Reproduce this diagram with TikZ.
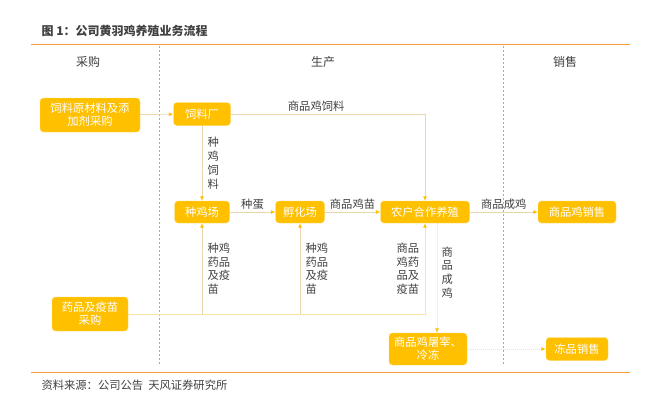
\documentclass[tikz,border=0pt]{standalone}
\usepackage{fontspec}
\setmainfont{Noto Sans CJK SC}
\usepackage{xcolor}
\usetikzlibrary{arrows.meta}

\definecolor{boxfill}{HTML}{FFC000}
\definecolor{linktan}{HTML}{E9D6AC}
\definecolor{linkpale}{HTML}{FBE3A6}
\definecolor{ruleorange}{HTML}{F79A3E}
\definecolor{textgray}{HTML}{404040}
\definecolor{divgray}{HTML}{AAAAAA}

\begin{document}
\begin{tikzpicture}[x=1pt,y=-1pt,
    box/.style={draw=boxfill!60!white, fill=boxfill, rounded corners=3.5pt,
                text=white, font=\fontsize{11.3}{13}\selectfont, align=center,
                inner sep=0pt, minimum height=23pt},
    tip/.style={-{Latex[length=4.5pt,width=4pt,color=boxfill]}},
    link/.style={draw=linktan, line width=0.7pt, tip},
    linksoft/.style={draw=linkpale, line width=0.9pt, tip},
    linkdot/.style={draw=linkpale, line width=0.8pt, dash pattern=on 1pt off 1pt, tip},
    lbl/.style={text=textgray, font=\fontsize{11.3}{13.8}\selectfont, align=left},
    head/.style={text=textgray, font=\fontsize{12}{14}\selectfont},
    divider/.style={divgray, line width=0.6pt, dash pattern=on 2pt off 2pt}]
\useasboundingbox (0,0) rectangle (646,402);

% title and rules
\node[anchor=west, text=textgray, font=\fontsize{12}{14}\selectfont\bfseries] (title) at (38,31) {图 1：公司黄羽鸡养殖业务流程};
\draw[ruleorange, line width=1pt] (31,44) -- (630,44);
\draw[ruleorange, line width=1pt] (31,372) -- (630,372);
\node[anchor=west, text=textgray, font=\fontsize{11.3}{13}\selectfont] (source) at (38,385) {资料来源：公司公告\ \ 天风证券研究所};

% columns
\draw[divider] (159,46) -- (159,365);
\draw[divider] (503,46) -- (503,365);
\node[head] (hbuy)  at (88,62)  {采购};
\node[head] (hmake) at (323,62) {生产};
\node[head] (hsell) at (565,62) {销售};

% boxes
\node[box, minimum width=100pt, minimum height=34pt] (raw)   at (90,115)  {饲料原材料及添\\加剂采购};
\node[box, minimum width=57pt]  (feed)  at (202,114) {饲料厂};
\node[box, minimum width=55pt, minimum height=22pt] (breed) at (202,212) {种鸡场};
\node[box, minimum width=49pt, minimum height=22pt] (hatch) at (300,212) {孵化场};
\node[box, minimum width=89pt, minimum height=22pt] (farm)  at (425,212) {农户合作养殖};
\node[box, minimum width=78pt, minimum height=22pt] (sale)  at (577,212) {商品鸡销售};
\node[box, minimum width=76pt, minimum height=34pt] (drug)  at (90,314)  {药品及疫苗\\采购};
\node[box, minimum width=78pt, minimum height=32pt] (kill)  at (428,349) {商品鸡屠宰、\\冷冻};
\node[box, minimum width=62pt]  (frozen) at (577,349) {冻品销售};

% feed flows
\draw[link] (raw) -- (feed);
\draw[link] (feed.east) -| node[lbl, pos=0.22, above=-1pt] {商品鸡饲料} (farm.north);
\draw[link] (feed) -- node[lbl, right=2pt] {种\\鸡\\饲\\料} (breed);

% chicken flows
\draw[link] (breed) -- node[lbl, above=-1pt] {种蛋} (hatch);
\draw[link] (hatch) -- node[lbl, above=-1pt] {商品鸡苗} (farm);
\draw[link] (farm) -- node[lbl, above=-1pt] {商品成鸡} (sale);

% drug flows
\coordinate (drugbreed) at (breed.south |- drug.east);
\coordinate (drughatch) at (hatch.south |- drug.east);
\draw[linksoft] (drug.east) -| node[lbl, pos=0.75, left=2pt] {商品\\鸡药\\品及\\疫苗} (farm.south);
\draw[link] (drugbreed) -- node[lbl, pos=0.5, right=2pt] {种鸡\\药品\\及疫\\苗} (breed.south);
\draw[link] (drughatch) -- node[lbl, pos=0.5, right=2pt] {种鸡\\药品\\及疫\\苗} (hatch.south);

% processing
\coordinate (farmout) at ([xshift=12pt]farm.south);
\coordinate (killin) at (farmout |- kill.north);
\draw[linkdot] (farmout) -- node[lbl, pos=0.45, right=1pt] {商\\品\\成\\鸡} (killin);
\draw[linkdot] (kill) -- (frozen);
\end{tikzpicture}
\end{document}
